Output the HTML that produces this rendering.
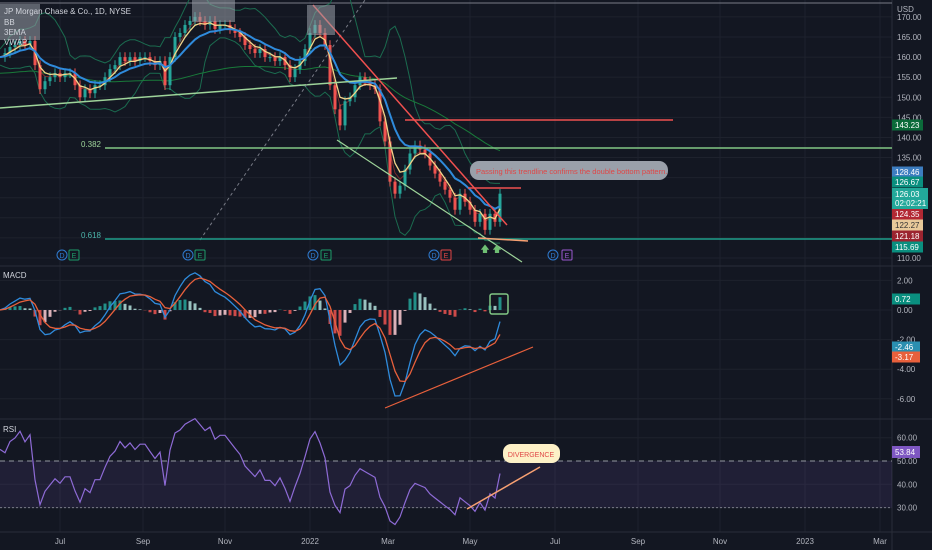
<!DOCTYPE html>
<html><head><meta charset="utf-8">
<style>
html,body{margin:0;padding:0;background:#131722;}
svg{display:block;font-family:"Liberation Sans",sans-serif;}
</style></head>
<body>
<svg id="chart" width="932" height="550" viewBox="0 0 932 550" xmlns="http://www.w3.org/2000/svg">
<rect x="0" y="0" width="932" height="550" fill="#131722"/>
<g id="grid"></g>
<g id="main"></g>
<g id="macd"></g>
<g id="rsi"></g>
<g id="axes"></g>
</svg>
<script>
const closes=[160,161,162.5,163,164,163,164,158,152,154,155,156,155,156,156,153,150,152,151,153,153,155,157,158,160,159,160,159,160,160,159,158,159,153,160,165,166,168,169,170,169,168,169,167,168,168,167,166,165,163,162,161,162,160,160,159,160,158,155,157,159,162,166,168,166,163,153,147,143,149,150,153,155,154,153,152,144,139,129,126,128,132,136,138,137,136,133,131,129,127,125,122,126,124,122,119,121,117,121,119,126];
const priceTicks=[170,165,160,155,150,145,140,135,130,125,120,115,110];
const macdTicks=[2,0,-2,-4,-6];
const rsiTicks=[60,50,40,30];
const monthLabels=["Jul","Sep","Nov","2022","Mar","May","Jul","Sep","Nov","2023","Mar"];
const monthIndex=[12,28.6,45,62,77.6,94,111,127.6,144,161,176];
const tagLabels=["143.23","128.46","126.67","124.35","122.27","121.18","115.69"];
const tagValues=[143.23,128.46,126.67,124.35,122.27,121.18,115.69];

const NS="http://www.w3.org/2000/svg";
const PW=892, STEP=5;
const X=i=>i*STEP;
const PY=p=>16.9+(170-p)*4.018;
const MY=v=>310-v*14.8;
const RY=v=>461-(v-50)*2.33;
const tagColors=["#0b6b3a","#3d7dc0","#0a8f7f","#b22833","#e8c99a","#9c2430","#0a8f7f"];
const tagText=["#fff","#fff","#fff","#fff","#333","#fff","#fff"];
const tagY=[125,172,182,214,225,236,247];
function mk(parent,tag,attrs,name){const e=document.createElementNS(NS,tag);for(const k in attrs)e.setAttribute(k,attrs[k]);


document.getElementById(parent).appendChild(e);return e;}
function txt(parent,x,y,s,fill,size,name,anchor){const t=mk(parent,'text',{x:x,y:y,fill:fill,'font-size':size,'text-anchor':anchor||'start'},name);t.textContent=s;return t;}
function ema(a,n){const k=2/(n+1);let r=[],v=a[0];a.forEach((c,i)=>{v=i?c*k+v*(1-k):c;r.push(v);});return r;}
function sma(a,n){return a.map((c,i)=>{const s=a.slice(Math.max(0,i-n+1),i+1);return s.reduce((p,q)=>p+q,0)/s.length;});}
function poly(parent,pts,stroke,w,name,dash){return mk(parent,'polyline',{points:pts.map(p=>p[0].toFixed(1)+','+p[1].toFixed(1)).join(' '),fill:'none',stroke:stroke,'stroke-width':w,'stroke-dasharray':dash||'none'},name);}

// grid
priceTicks.forEach(p=>mk('grid','line',{x1:0,x2:PW,y1:PY(p),y2:PY(p),stroke:'#1e222d'},'price-gridline'));
monthIndex.forEach(m=>{const x=m*STEP;mk('grid','line',{x1:x,x2:x,y1:0,y2:532,stroke:'#1e222d'},'time-gridline');});
macdTicks.forEach(v=>mk('grid','line',{x1:0,x2:PW,y1:MY(v),y2:MY(v),stroke:'#1e222d'},'macd-gridline'));
rsiTicks.forEach(v=>mk('grid','line',{x1:0,x2:PW,y1:RY(v),y2:RY(v),stroke:'#1e222d'},'rsi-gridline'));
mk('grid','line',{x1:0,x2:932,y1:266,y2:266,stroke:'#2a2e39'},'pane-divider');
mk('grid','line',{x1:0,x2:932,y1:419,y2:419,stroke:'#2a2e39'},'pane-divider');
mk('grid','line',{x1:0,x2:932,y1:532,y2:532,stroke:'#2a2e39'},'pane-divider');
mk('grid','line',{x1:PW,x2:PW,y1:0,y2:550,stroke:'#2a2e39'},'axis-divider');
mk('grid','line',{x1:0,x2:PW,y1:3,y2:3,stroke:'#787b86'},'top-line');

// indicators on price
const e1=ema(closes,4),e2=ema(closes,10),e3=ema(closes,3),e4=ema(closes,60),m8=sma(closes,8);
const sd=closes.map((c,i)=>{const s=closes.slice(Math.max(0,i-7),i+1);const m=m8[i];return Math.sqrt(s.reduce((p,q)=>p+(q-m)*(q-m),0)/s.length);});
poly('main',m8.map((v,i)=>[X(i),PY(v+2*sd[i]+2)]),'#1b6b4f',1,'bb-upper');
poly('main',m8.map((v,i)=>[X(i),PY(v-2*sd[i]-2)]),'#1b6b4f',1,'bb-lower');
poly('main',e4.map((v,i)=>[X(i),PY(v-4)]),'#197a3a',1,'ema-200');
poly('main',e3.map((v,i)=>[X(i),PY(v)]),'#7a2b2b',1,'ema-red');
closes.forEach((c,i)=>{if(!i)return;const o=closes[i-1];const up=c>=o;const col=up?'#26a69a':'#ef5350';const x=X(i);
const hi=Math.max(o,c)+1.2,lo=Math.min(o,c)-1.2;
mk('main','line',{x1:x,x2:x,y1:PY(hi),y2:PY(lo),stroke:col,'stroke-width':1},'candle-wick');
mk('main','rect',{x:x-1.5,y:PY(Math.max(o,c)),width:3,height:Math.max(1,PY(Math.min(o,c))-PY(Math.max(o,c))),fill:col},'candle-body');});
poly('main',e1.map((v,i)=>[X(i),PY(v)]),'#f2d58a',1.3,'ema-yellow');
poly('main',e2.map((v,i)=>[X(i),PY(v)]),'#2f8bdc',2,'ema-blue');

// drawings
mk('main','line',{x1:0,x2:397,y1:108,y2:78,stroke:'#9ed49a','stroke-width':1.5},'support-trendline');
mk('main','line',{x1:200,x2:365,y1:240,y2:0,stroke:'#787b86','stroke-width':1,'stroke-dasharray':'3,3'},'fib-dashed-line');
mk('main','line',{x1:313,x2:507,y1:5,y2:225,stroke:'#f0504f','stroke-width':1.5},'down-trendline');
mk('main','line',{x1:337,x2:522,y1:140,y2:262,stroke:'#9ed49a','stroke-width':1.2},'channel-lower-line');
mk('main','line',{x1:405,x2:673,y1:120,y2:120,stroke:'#f0504f','stroke-width':1.5},'resistance-line');
mk('main','line',{x1:468,x2:521,y1:188,y2:188,stroke:'#f0504f','stroke-width':1.5},'neckline');
mk('main','line',{x1:105,x2:PW,y1:148,y2:148,stroke:'#81c784','stroke-width':1.5},'fib-0382-line');
mk('main','line',{x1:105,x2:PW,y1:239,y2:239,stroke:'#1e9e8a','stroke-width':1.5},'fib-0618-line');
mk('main','line',{x1:478,x2:528,y1:238,y2:241,stroke:'#f7a072','stroke-width':1.5},'double-bottom-line');
txt('main',101,147,'0.382','#9ed49a',8,'fib-0382-label','end');
txt('main',101,238,'0.618','#4db6ac',8,'fib-0618-label','end');
mk('main','rect',{x:0,y:4,width:40,height:36,fill:'#9aa0aa','fill-opacity':0.55},'legend-box');
mk('main','rect',{x:192,y:0,width:43,height:22,fill:'#9aa0aa','fill-opacity':0.55},'pattern-box-h');
mk('main','rect',{x:307,y:5,width:28,height:30,fill:'#9aa0aa','fill-opacity':0.55},'pattern-box-r');
txt('main',4,14,'JP Morgan Chase & Co., 1D, NYSE','#d1d4dc',8,'chart-title');
txt('main',4,25,'BB','#d1d4dc',8,'legend-bb');
txt('main',4,35,'3EMA','#d1d4dc',8,'legend-ema');
txt('main',4,45,'VWAP','#d1d4dc',8,'legend-vwap');
mk('main','rect',{x:470,y:161,width:198,height:19,rx:9,fill:'#9aa0aa'},'annotation-bubble');
txt('main',476,174,'Passing this trendline confirms the double bottom pattern.','#e04646',7.5,'annotation-text');
[[62,'#2f7bd0','D'],[74,'#1e9e6a','E'],[188,'#2f7bd0','D'],[200,'#1e9e6a','E'],[313,'#2f7bd0','D'],[326,'#1e9e6a','E'],[434,'#2f7bd0','D'],[446,'#e04646','E'],[553,'#2f7bd0','D'],[567,'#9b59d0','E']].forEach(d=>{
mk('main','rect',{x:d[0]-5,y:250,width:10,height:10,rx:d[2]=='D'?5:1,fill:'none',stroke:d[1]},'event-marker');
txt('main',d[0],258,d[2],d[1],7,'event-marker-label','middle');});
txt('main',485,252,'🡅','#6fbf73',9,'arrow-marker','middle');
txt('main',497,252,'🡅','#6fbf73',9,'arrow-marker','middle');

// MACD
const f=ema(closes,5),s=ema(closes,10);const macdV=f.map((v,i)=>(v-s[i])*0.9);const sig=ema(macdV,4);
macdV.forEach((v,i)=>{const h=v-sig[i];const prev=i?macdV[i-1]-sig[i-1]:h;const col=h>=0?(h>prev?'#26a69a':'#b2dfdb'):(h<prev?'#ef5350':'#ffcdd2');
mk('macd','rect',{x:X(i)-1.5,y:Math.min(MY(0),MY(h)),width:3,height:Math.abs(MY(h)-MY(0)),fill:col,'fill-opacity':0.85},'macd-histogram-bar');});
poly('macd',macdV.map((v,i)=>[X(i),MY(v)]),'#2f8bdc',1.3,'macd-line');
poly('macd',sig.map((v,i)=>[X(i),MY(v)]),'#e8603c',1.3,'signal-line');
mk('macd','line',{x1:385,x2:533,y1:408,y2:347,stroke:'#e8603c','stroke-width':1.2},'macd-divergence-line');
mk('macd','rect',{x:490,y:294,width:18,height:20,rx:2,fill:'none',stroke:'#81c784','stroke-width':1.5},'macd-highlight-box');
txt('macd',3,278,'MACD','#d1d4dc',8,'macd-title');

// RSI
const rsiP=14;let ag=0.5,al=0.5;const rsiV=closes.map((c,i)=>{if(!i)return 55;const d=c-closes[i-1];const g=Math.max(d,0),l=Math.max(-d,0);ag=(ag*(rsiP-1)+g)/rsiP;al=(al*(rsiP-1)+l)/rsiP;return al==0?70:100-100/(1+ag/al);});
mk('rsi','rect',{x:0,y:RY(50),width:PW,height:RY(30)-RY(50),fill:'#7e57c2','fill-opacity':0.13},'rsi-band');
mk('rsi','line',{x1:0,x2:PW,y1:RY(50),y2:RY(50),stroke:'#9598a1','stroke-dasharray':'5,4'},'rsi-50-line');
mk('rsi','line',{x1:0,x2:PW,y1:RY(30),y2:RY(30),stroke:'#787b86','stroke-dasharray':'2,2'},'rsi-30-line');
poly('rsi',rsiV.map((v,i)=>[X(i),RY(v)]),'#8e6bd6',1.2,'rsi-line');
mk('rsi','line',{x1:467,x2:540,y1:509,y2:467,stroke:'#f7a072','stroke-width':1.5},'rsi-divergence-line');
mk('rsi','rect',{x:503,y:444,width:57,height:19,rx:8,fill:'#fdf1c7'},'divergence-bubble');
txt('rsi',531,457,'DIVERGENCE','#e04646',7,'divergence-text','middle');
txt('rsi',3,432,'RSI','#d1d4dc',8,'rsi-title');

// axes
txt('axes',897,12,'USD','#b2b5be',8,'currency-label');
priceTicks.forEach(p=>{const y=PY(p);if(y>118&&y<132)return;if(y>166&&y<255)return;txt('axes',897,y+3,p.toFixed(2),'#b2b5be',8,'price-tick');});
macdTicks.forEach(v=>txt('axes',897,MY(v)+3,v.toFixed(2),'#b2b5be',8,'macd-tick'));
rsiTicks.forEach(v=>txt('axes',897,RY(v)+3,v.toFixed(2),'#b2b5be',8,'rsi-tick'));
monthLabels.forEach((m,i)=>txt('axes',monthIndex[i]*STEP,544,m,'#b2b5be',8,'time-tick','middle'));
tagLabels.forEach((t,i)=>{const y=tagY[i];mk('axes','rect',{x:892,y:y-5.5,width:31,height:11,fill:tagColors[i]},'price-tag');txt('axes',895,y+3,t,tagText[i],8,'price-tag-label');});
mk('axes','rect',{x:892,y:188,width:36,height:21,fill:'#22a89a'},'last-price-tag');
txt('axes',895,197,'126.03','#fff',8,'last-price-label');
txt('axes',895,206,'02:02:21','#fff',8,'countdown-label');
[["0.72",299,"#0a8f7f"],["-2.46",347,"#2a8fb0"],["-3.17",357,"#e8603c"]].forEach(t=>{const y=t[1];mk('axes','rect',{x:892,y:y-5.5,width:28,height:11,fill:t[2]},'macd-tag');txt('axes',895,y+3,t[0],'#fff',8,'macd-tag-label');});
mk('axes','rect',{x:892,y:446,width:28,height:12,fill:'#7e57c2'},'rsi-tag');
txt('axes',895,455,'53.84','#fff',8,'rsi-tag-label');
</script>
</body></html>
